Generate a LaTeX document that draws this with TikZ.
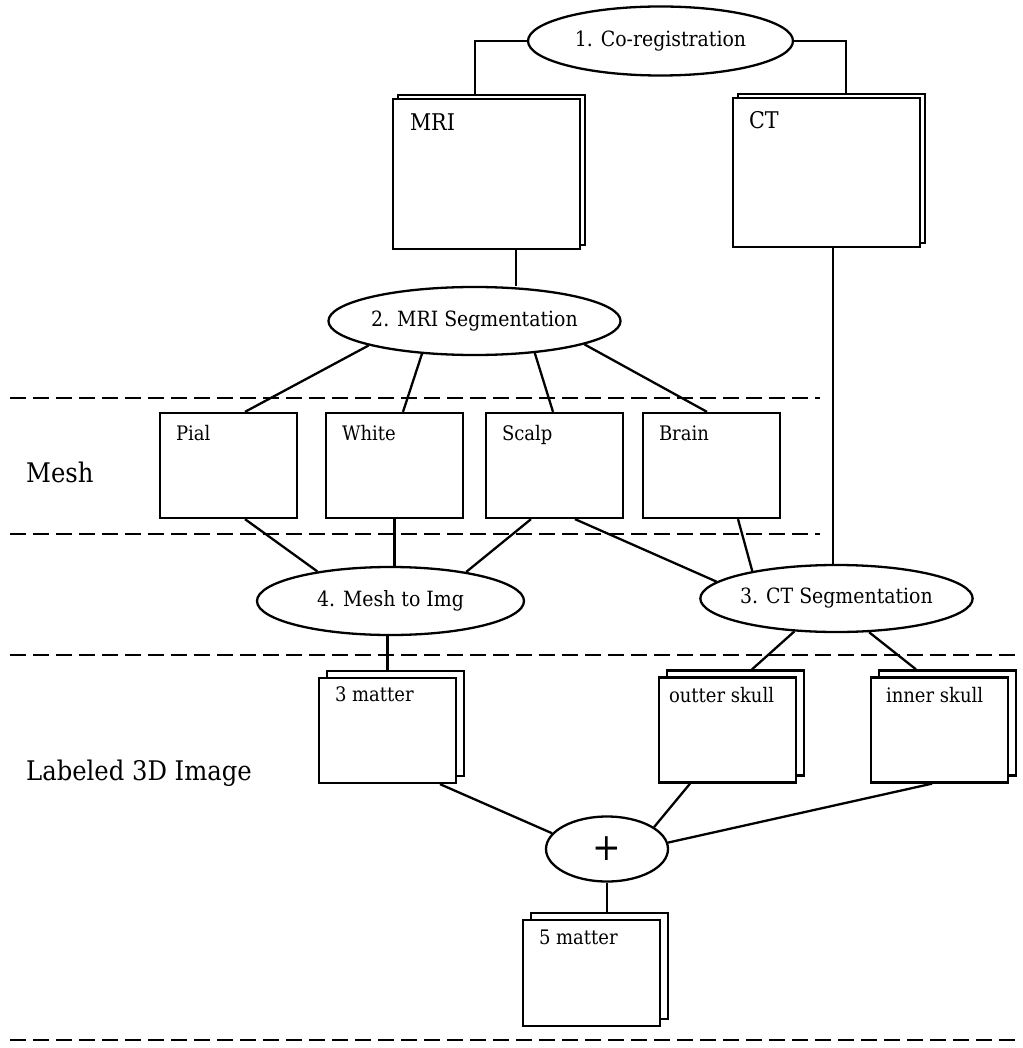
\documentclass[tikz,border=0pt]{standalone}
\usepackage{fontspec}
\setmainfont{DejaVu Serif Condensed}
\usetikzlibrary{shapes.geometric}
\begin{document}
\begin{tikzpicture}[x=1pt,y=-1pt,line width=2.3pt,
  oval/.style={draw,ellipse,inner sep=0pt,fill=white,minimum width=265pt,minimum height=68pt,font=\fontsize{21}{24}\selectfont},
  box/.style={draw,fill=white,inner sep=0pt},
  bigbox/.style={box,minimum width=187pt,minimum height=150pt},
  smallbox/.style={box,minimum width=137pt,minimum height=105pt},
  boxlabel/.style={anchor=base west,inner sep=0pt,font=\fontsize{20}{22}\selectfont},
  biglabel/.style={anchor=base west,inner sep=0pt,font=\fontsize{23}{26}\selectfont},
  sidelabel/.style={anchor=west,inner sep=0pt,font=\fontsize{27}{30}\selectfont},
  sep/.style={dash pattern=on 15.5pt off 7.5pt,line width=2.3pt}]
\useasboundingbox (0,0) rectangle (1022,1048);

% separators
\draw[sep] (10,398) -- (820,398);
\draw[sep] (10,534) -- (820,534);
\draw[sep] (10,655) -- (1022,655);
\draw[sep] (10,1040) -- (1022,1040);

% side labels
\node[sidelabel] (lmesh) at (25,472) {Mesh};
\node[sidelabel] (limg) at (25,773) {Labeled 3D Image};

% ellipses
\node[oval,minimum height=69pt] (coreg) at (660.5,41) {1. Co-registration};
\node[oval] (seg2) at (474.5,321) {2. MRI Segmentation};
\node[oval,minimum width=267pt] (m2i) at (390.5,601) {4. Mesh to Img};
\node[oval,minimum height=67pt] (ctseg) at (836.5,598.5) {3. CT Segmentation};
\node[oval,minimum width=122pt,minimum height=65pt,font=\fontsize{38}{38}\selectfont] (plus) at (607,849) {+};

% MRI / CT stacks
\node[bigbox] (mrib) at (491.5,170) {};
\node[bigbox] (mri) at (486.5,174) {};
\node[biglabel] (mrit) at ([xshift=17pt,yshift=-33pt]mri.north west) {MRI};
\node[bigbox,minimum height=149pt] (ctb) at (831.5,168.5) {};
\node[bigbox,minimum height=149pt] (ct) at (826.5,172.5) {};
\node[biglabel] (ctt) at ([xshift=16pt,yshift=-32pt]ct.north west) {CT};

% mesh boxes
\node[smallbox] (pial) at (228.5,465.5) {};
\node[boxlabel] (pialt) at ([xshift=16pt,yshift=-29pt]pial.north west) {Pial};
\node[smallbox] (white) at (394.5,465.5) {};
\node[boxlabel] (whitet) at ([xshift=16pt,yshift=-29pt]white.north west) {White};
\node[smallbox] (scalp) at (554.5,465.5) {};
\node[boxlabel] (scalpt) at ([xshift=16pt,yshift=-29pt]scalp.north west) {Scalp};
\node[smallbox] (brain) at (711.5,465.5) {};
\node[boxlabel] (braint) at ([xshift=16pt,yshift=-29pt]brain.north west) {Brain};

% image stacks
\node[smallbox] (m3b) at (395.5,723.5) {};
\node[smallbox] (m3) at (387.5,730.5) {};
\node[boxlabel] (m3t) at ([xshift=16pt,yshift=-25pt]m3.north west) {3 matter};
\node[smallbox] (oskb) at (735.5,723) {};
\node[smallbox] (osk) at (727.5,730) {};
\node[boxlabel] (oskt) at ([xshift=10pt,yshift=-26pt]osk.north west) {outter skull};
\node[smallbox] (iskb) at (947.5,723) {};
\node[smallbox] (isk) at (939.5,730) {};
\node[boxlabel] (iskt) at ([xshift=15pt,yshift=-26pt]isk.north west) {inner skull};
\node[smallbox,minimum height=106pt] (m5b) at (599.5,966) {};
\node[smallbox,minimum height=106pt] (m5) at (591.5,973) {};
\node[boxlabel] (m5t) at ([xshift=16pt,yshift=-26pt]m5.north west) {5 matter};

% connectors
\draw (coreg.west) -| ([xshift=-16.5pt]mrib.north);
\draw (coreg.east) -| ([xshift=14.5pt]ctb.north);
\draw ([xshift=29.5pt]mri.south) -- ([xshift=29.5pt]mri.south |- seg2.north);
\draw ([xshift=6.5pt]ct.south) -- ([xshift=6.5pt]ct.south |- ctseg.north);

\draw (seg2.193) -- ([xshift=16.5pt]pial.north);
\draw (seg2.212) -- ([xshift=8.5pt]white.north);
\draw (seg2.-28) -- ([xshift=-1.5pt]scalp.north);
\draw (seg2.-12) -- ([xshift=-4.5pt]brain.north);

\draw ([xshift=16.5pt]pial.south) -- (m2i.158);
\draw (white.south) -- (white.south |- m2i.north);
\draw ([xshift=-23.5pt]scalp.south) -- (m2i.21);
\draw ([xshift=20.5pt]scalp.south) -- (ctseg.172);
\draw ([xshift=26.5pt]brain.south) -- (ctseg.162);

\draw ([xshift=-3pt]m2i.south) -- ([xshift=-3pt]m2i.south |- m3b.north);
\draw (ctseg.218) -- ([xshift=16.5pt]oskb.north);
\draw (ctseg.-46) -- ([xshift=-31.5pt]iskb.north);

\draw ([xshift=52.5pt]m3.south) -- (plus.164);
\draw ([xshift=-37.5pt]osk.south) -- (plus.25);
\draw ([xshift=-7.5pt]isk.south) -- (plus.6);
\draw (plus.south) -- (plus.south |- m5b.north);
\end{tikzpicture}
\end{document}
